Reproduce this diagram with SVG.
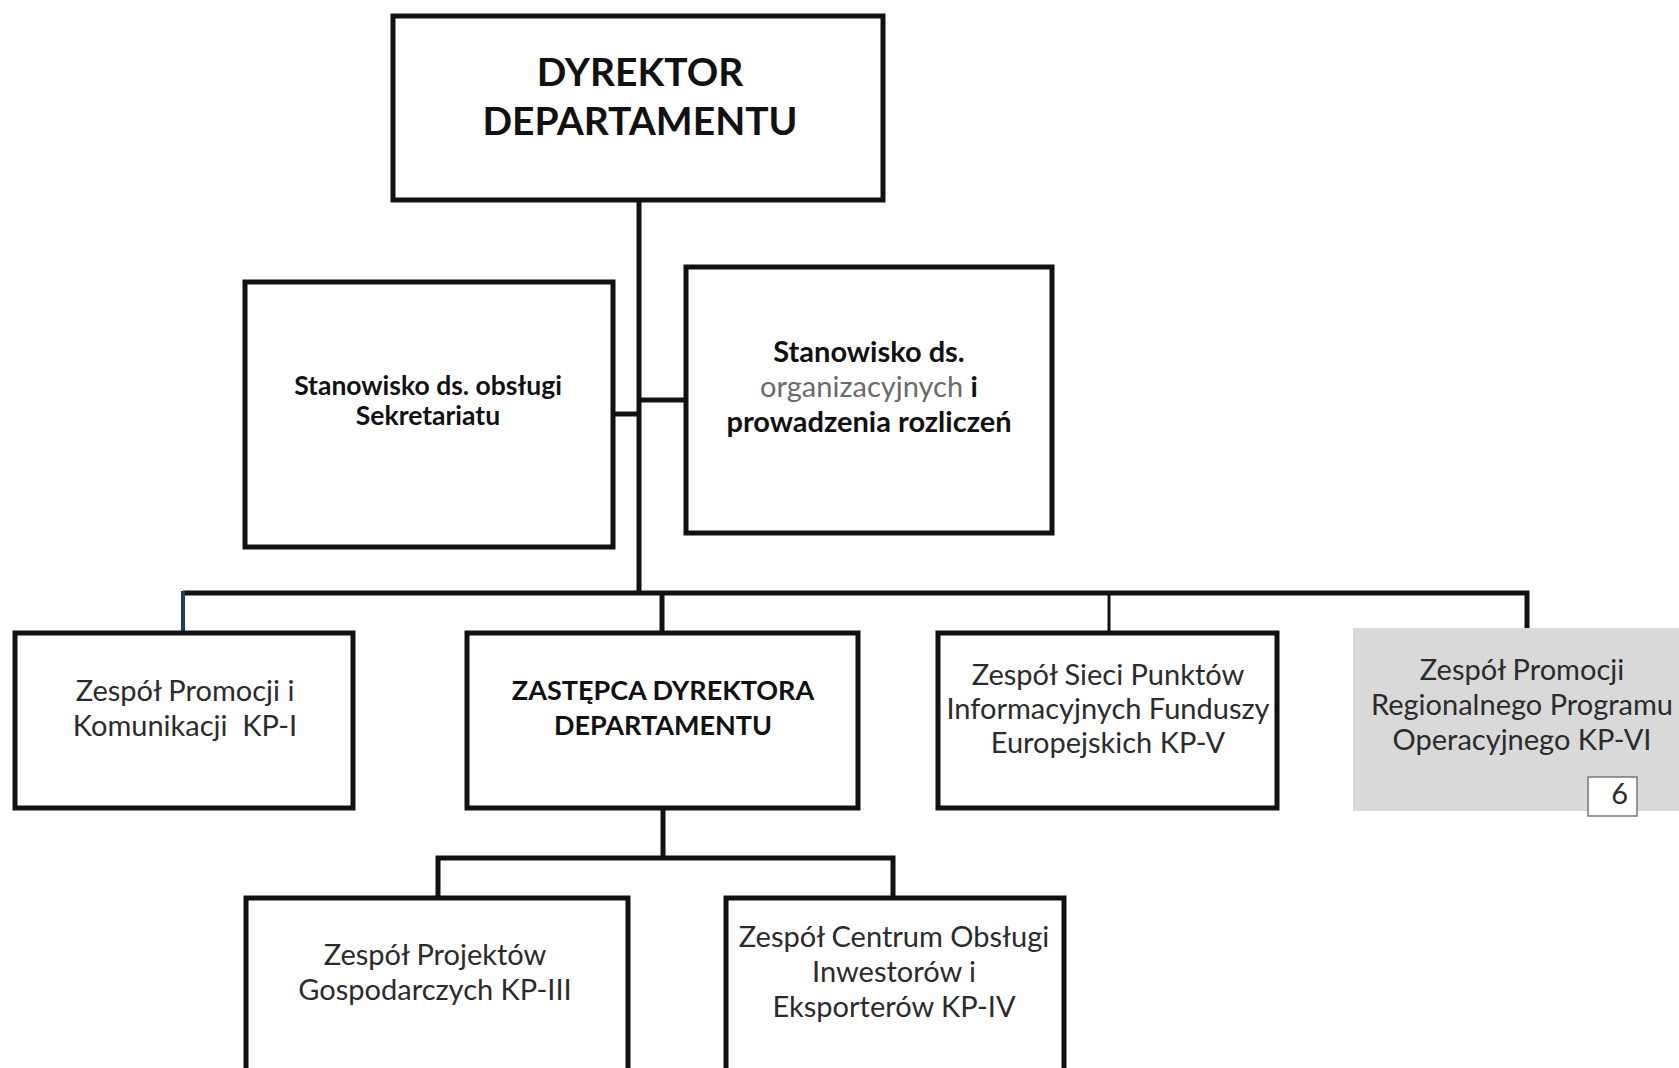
<svg xmlns="http://www.w3.org/2000/svg" width="1679" height="1068" viewBox="0 0 1679 1068">
<style>
.box{fill:#fff;stroke:#111;stroke-width:5}
.ln{fill:none;stroke:#111;stroke-width:5}
.t{font-family:Lato,"Open Sans",sans-serif;text-anchor:middle;fill:#2b2b2b}
.r{font-size:29px;font-weight:400}
.b{font-weight:700;fill:#111}
.g{fill:#6a6a6a;font-weight:400}
</style>
<rect width="1679" height="1068" fill="#fff"/>
<g id="connectors">
<path class="ln" d="M639 200V593"/>
<path class="ln" d="M613 414H639"/>
<path class="ln" d="M639 400H686"/>
<path class="ln" d="M183 593H1527V628"/>
<path fill="none" stroke="#1f3f66" stroke-width="4" d="M183 591V633"/>
<path class="ln" d="M662 593V633"/>
<path fill="none" stroke="#111" stroke-width="3" d="M1109 593V633"/>
<path class="ln" d="M663 808V858"/>
<path class="ln" d="M438 898V858H893V898"/>
</g>
<g id="dyrektor">
<rect class="box" x="393" y="16" width="490" height="184"/>
<text class="t b" x="640" y="86" font-size="39">DYREKTOR</text>
<text class="t b" x="640" y="135" font-size="39">DEPARTAMENTU</text>
</g>
<g id="sekretariat">
<rect class="box" x="245" y="282" width="368" height="265"/>
<text class="t b" x="428" y="395" font-size="26.5">Stanowisko ds. obsługi</text>
<text class="t b" x="428" y="425" font-size="26.5">Sekretariatu</text>
</g>
<g id="organizacyjne">
<rect class="box" x="686" y="267" width="366" height="266"/>
<text class="t b" x="869" y="362" font-size="29">Stanowisko ds.</text>
<text class="t" x="869" y="397" font-size="29"><tspan class="g">organizacyjnych</tspan> <tspan class="b">i</tspan></text>
<text class="t b" x="869" y="432" font-size="29">prowadzenia rozliczeń</text>
</g>
<g id="kp1">
<rect class="box" x="15" y="633" width="338" height="175"/>
<text class="t r" x="185" y="701">Zespół Promocji i</text>
<text class="t r" x="185" y="736" xml:space="preserve">Komunikacji  KP-I</text>
</g>
<g id="zastepca">
<rect class="box" x="467" y="633" width="391" height="175"/>
<text class="t b" x="663" y="700" font-size="27">ZASTĘPCA DYREKTORA</text>
<text class="t b" x="663" y="735" font-size="27">DEPARTAMENTU</text>
</g>
<g id="kp5">
<rect class="box" x="938" y="633" width="339" height="175"/>
<text class="t r" x="1108" y="685">Zespół Sieci Punktów</text>
<text class="t r" x="1108" y="719">Informacyjnych Funduszy</text>
<text class="t r" x="1108" y="753">Europejskich KP-V</text>
</g>
<g id="kp6">
<rect x="1353" y="628" width="330" height="183" fill="#d9d9d9"/>
<text class="t r" x="1522" y="680">Zespół Promocji</text>
<text class="t r" x="1522" y="715">Regionalnego Programu</text>
<text class="t r" x="1522" y="750">Operacyjnego KP-VI</text>
<rect x="1588" y="777" width="49" height="39" fill="#fff" stroke="#777" stroke-width="1.5"/>
<text class="t r" x="1628" y="804" style="text-anchor:end">6</text>
</g>
<g id="kp3">
<rect class="box" x="246" y="898" width="382" height="200"/>
<text class="t r" x="435" y="965">Zespół Projektów</text>
<text class="t r" x="435" y="1000">Gospodarczych KP-III</text>
</g>
<g id="kp4">
<rect class="box" x="726" y="898" width="338" height="200"/>
<text class="t r" x="894" y="947">Zespół Centrum Obsługi</text>
<text class="t r" x="894" y="982">Inwestorów i</text>
<text class="t r" x="894" y="1017">Eksporterów KP-IV</text>
</g>
</svg>
